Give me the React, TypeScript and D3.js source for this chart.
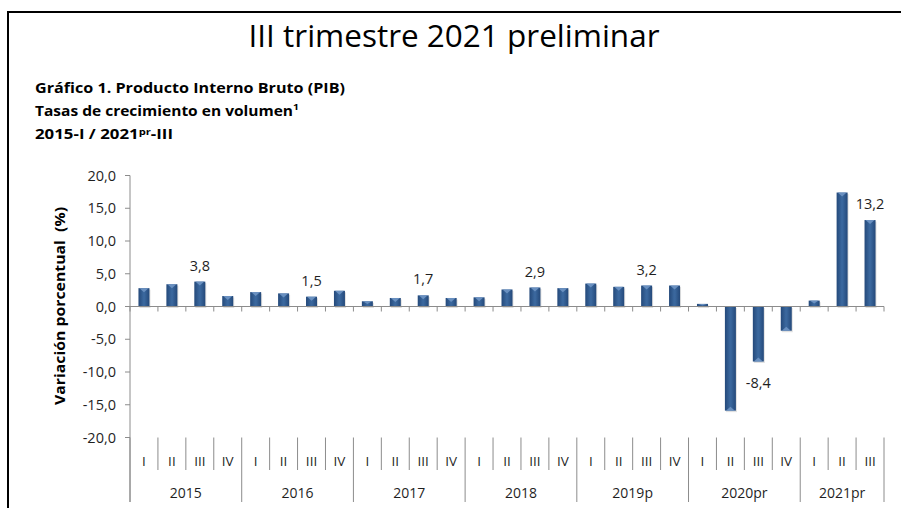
import React from "react";
import * as d3 from "d3";

const years = ["2015", "2016", "2017", "2018", "2019p", "2020pr", "2021pr"];
const categories = [
  "2015-I", "2015-II", "2015-III", "2015-IV",
  "2016-I", "2016-II", "2016-III", "2016-IV",
  "2017-I", "2017-II", "2017-III", "2017-IV",
  "2018-I", "2018-II", "2018-III", "2018-IV",
  "2019p-I", "2019p-II", "2019p-III", "2019p-IV",
  "2020pr-I", "2020pr-II", "2020pr-III", "2020pr-IV",
  "2021pr-I", "2021pr-II", "2021pr-III",
];
const quarterLabels = categories.map((c) => c.split("-")[1]);
const values = [
  2.8, 3.4, 3.8, 1.6,
  2.2, 2.0, 1.5, 2.4,
  0.8, 1.3, 1.7, 1.3,
  1.4, 2.6, 2.9, 2.8,
  3.5, 3.0, 3.2, 3.2,
  0.4, -15.9, -8.4, -3.7,
  0.9, 17.4, 13.2,
];
const labeledIndex = [2, 6, 10, 14, 18, 22, 26];
const yTicks = [20, 15, 10, 5, 0, -5, -10, -15, -20];

const fmt = (v: number) => v.toFixed(1).replace(".", ",");

export default function App() {
  const W = 901, H = 508;
  const left = 130, right = 884;
  const x = d3.scaleBand<string>().domain(categories).range([left, right]).paddingInner(0).paddingOuter(0);
  const y = d3.scaleLinear().domain([-20, 20]).range([437.5, 175.5]);
  const bw = 11;
  const y0 = y(0);
  const axisBottom = 502;
  const qTop = 437.5, qBottom = 470;
  const font = "'Open Sans', sans-serif";
  const textColor = "#1f1f1f";
  const gridColor = "#8c8c8c";

  const boundaries = d3.range(categories.length + 1).map((i) => left + x.step() * i);
  const yearBounds = [0, 4, 8, 12, 16, 20, 24, 27];

  return (
    <div style={{ position: "fixed", left: 0, top: 0, width: W, height: H, background: "#fff" }}>
      <svg width={W} height={H} style={{ display: "block" }}>
        <defs>
          <linearGradient id="barGrad" x1="0" x2="1" y1="0" y2="0">
            <stop offset="0" stopColor="#24497a" />
            <stop offset="0.45" stopColor="#3a679d" />
            <stop offset="0.55" stopColor="#3a679d" />
            <stop offset="1" stopColor="#24497a" />
          </linearGradient>
        </defs>
        <rect x={0} y={0} width={W} height={H} fill="#fff" />
        <rect x={8} y={12} width={1000} height={700} fill="none" stroke="#000" strokeWidth={2} />

        <text x={454} y={47} textAnchor="middle" fontFamily={font} fontSize={31} fill="#000" textLength={411} lengthAdjust="spacingAndGlyphs">
          III trimestre 2021 preliminar
        </text>

        <g fontFamily={font} fontWeight={700} fontSize={13.5} fill="#000">
          <text x={35} y={93} textLength={310} lengthAdjust="spacingAndGlyphs">Gráfico 1. Producto Interno Bruto (PIB)</text>
          <text x={35} y={116} textLength={264} lengthAdjust="spacingAndGlyphs">
            Tasas de crecimiento en volumen<tspan fontSize={9} dy={-6}>1</tspan>
          </text>
          <text x={35} y={139} textLength={138} lengthAdjust="spacingAndGlyphs">
            2015-I / 2021<tspan fontSize={9} dy={-4}>pr</tspan><tspan dy={4}>-III</tspan>
          </text>
        </g>

        {/* y axis title */}
        <text
          transform={`translate(65,${306}) rotate(-90)`}
          textAnchor="middle"
          fontFamily={font}
          fontWeight={700}
          fontSize={14.5}
          fill="#000"
          textLength={198}
          lengthAdjust="spacingAndGlyphs"
        >
          {"Variación porcentual\u00a0\u00a0(%)"}
        </text>

        {/* y axis */}
        <line x1={left} x2={left} y1={y(20)} y2={axisBottom} stroke={gridColor} strokeWidth={1} />
        {yTicks.map((t) => (
          <g key={t}>
            <line x1={left - 5} x2={left} y1={y(t)} y2={y(t)} stroke={gridColor} />
            <text x={116} y={y(t)} dy="0.36em" textAnchor="end" fontFamily={font} fontSize={14.5} fill={textColor}>
              {fmt(t)}
            </text>
          </g>
        ))}

        {/* bars */}
        {values.map((v, i) => {
          const cx = (x(categories[i]) as number) + x.bandwidth() / 2;
          const top = Math.min(y(v), y0);
          const h = Math.abs(y(v) - y0);
          const endY = y(v);
          const dir = v >= 0 ? 1 : -1;
          const tri = Math.min(4, h / 2);
          return (
            <g key={categories[i]}>
              <rect x={cx - bw / 2 + 1} y={top + 1.5} width={bw} height={h} fill="#000" opacity={0.12} />
              <rect x={cx - bw / 2} y={top} width={bw} height={h} fill="url(#barGrad)" />
              <path
                d={`M${cx - bw / 2 + 1},${endY} L${cx + bw / 2 - 1},${endY} L${cx},${endY + dir * tri} Z`}
                fill="#6f95c4"
                opacity={0.9}
              />
            </g>
          );
        })}

        {/* zero axis */}
        <line x1={left} x2={right} y1={y0} y2={y0} stroke={gridColor} />
        {boundaries.map((bx, i) => (
          <line key={"zt" + i} x1={bx} x2={bx} y1={y0} y2={y0 + 5} stroke={gridColor} />
        ))}

        {/* data labels */}
        {labeledIndex.map((i) => {
          const v = values[i];
          const cx = (x(categories[i]) as number) + x.bandwidth() / 2;
          const ty = v >= 0 ? y(v) - 11 : y(v) + 26;
          return (
            <text key={"l" + i} x={cx} y={ty} textAnchor="middle" fontFamily={font} fontSize={14.5} fill={textColor}>
              {fmt(v)}
            </text>
          );
        })}

        {/* category axis */}
        {boundaries.map((bx, i) => {
          const isYear = yearBounds.includes(i);
          return (
            <line key={"sep" + i} x1={bx} x2={bx} y1={qTop} y2={isYear ? axisBottom : qBottom} stroke={gridColor} />
          );
        })}
        {quarterLabels.map((q, i) => (
          <text
            key={"q" + i}
            x={(x(categories[i]) as number) + x.bandwidth() / 2}
            y={461}
            dy="0.36em"
            textAnchor="middle"
            fontFamily={font}
            fontSize={13.5}
            fill={textColor}
          >
            {q}
          </text>
        ))}
        {years.map((yr, j) => {
          const a = boundaries[yearBounds[j]];
          const b = boundaries[yearBounds[j + 1]];
          return (
            <text key={yr} x={(a + b) / 2} y={493} dy="0.36em" textAnchor="middle" fontFamily={font} fontSize={14} fill={textColor}>
              {yr}
            </text>
          );
        })}
      </svg>
    </div>
  );
}
